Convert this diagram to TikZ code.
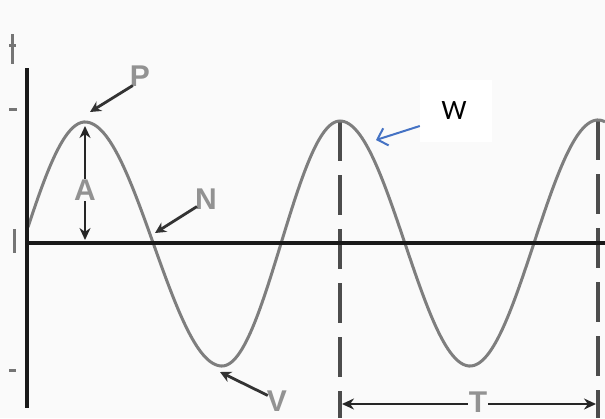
\documentclass[tikz,border=0pt]{standalone}
\usepackage{fontspec}
\setsansfont{Liberation Sans}
\newfontfamily\calib{Carlito}
\usetikzlibrary{arrows.meta}
\definecolor{bgc}{HTML}{FAFAFA}
\definecolor{wavec}{HTML}{7E7E7E}
\definecolor{dashc}{HTML}{4C4C4C}
\definecolor{labc}{HTML}{929292}
\definecolor{bluec}{HTML}{4472C4}
\tikzset{
  wave/.style={draw=wavec,line width=3pt},
  axisline/.style={draw=black!90,line width=3.6pt},
  dashline/.style={draw=dashc,line width=3.4pt,dash pattern=on 40pt off 14pt},
  lab/.style={text=labc,font=\sffamily\bfseries\fontsize{30}{30}\selectfont,inner sep=1pt},
  labw/.style={lab,fill=bgc},
  pointer/.style={draw=black!80,line width=2.8pt,-{Stealth[length=11pt,width=11pt]}},
  dim/.style={draw=black!85,line width=2.6pt,{Stealth[length=12pt,width=11pt]}-{Stealth[length=12pt,width=11pt]}},
  frag/.style={draw=labc!80!black,line width=3pt},
  wbox/.style={fill=white,draw=none,minimum width=72pt,minimum height=62pt,inner sep=0pt},
  bluearrow/.style={draw=bluec,line width=2pt,-{Straight Barb[length=9pt,width=18pt,line width=2pt]}}
}
\begin{document}
\begin{tikzpicture}[x=1pt,y=-1pt]
\fill[bgc] (0,0) rectangle (605,418);
\useasboundingbox (0,0) rectangle (605,418);
% left label fragments
\draw[frag] (12,34) -- (12,64);
\draw[frag] (9,45) -- (16,45);
\draw[frag] (9,109) -- (17,109);
\draw[frag] (14,229) -- (14,253);
\draw[frag] (9,370) -- (16,370);
% dashed verticals
\coordinate (d1t) at (340,121);
\coordinate (d1b) at (340,418);
\coordinate (d2t) at (598,120);
\coordinate (d2b) at (598,418);
\draw[dashline] (d1t) -- (d1b);
\draw[dashline] (d2t) -- (d2b);
% wave
\draw[wave]
  plot[domain=28:85,samples=30] (\x,{244+122*cos((\x+40)/125*180)})
  -- plot[domain=85:222,samples=60] (\x,{244-122*cos((\x-85)/137*180)})
  -- plot[domain=222:340,samples=60] (\x,{243.5+122.5*cos((\x-222)/118*180)})
  -- plot[domain=340:470,samples=60] (\x,{243.5-122.5*cos((\x-340)/130*180)})
  -- plot[domain=470:598,samples=60] (\x,{243+123*cos((\x-470)/128*180)})
  -- plot[domain=598:605,samples=6] (\x,{243-123*cos((\x-598)/128*180)});
% axes
\coordinate (ax0) at (27,243);
\coordinate (ax1) at (605,243);
\coordinate (ay0) at (27,68);
\coordinate (ay1) at (27,408);
\draw[axisline] (ax0) -- (ax1);
\draw[axisline] (ay0) -- (ay1);
% amplitude
\coordinate (at) at (85,126);
\coordinate (ab) at (85,240);
\draw[dim] (at) -- (ab);
\node[labw] (A) at (85,190) {A};
% period
\coordinate (tl) at (342,404);
\coordinate (tr) at (596,404);
\draw[dim] (tl) -- (tr);
\node[labw] (T) at (478,402) {T};
% P N V
\node[lab] (P) at (140,76) {P};
\coordinate (pp) at (90,112);
\draw[pointer] (P.south west) ++(4,-2) -- (pp);
\node[lab] (N) at (206,199) {N};
\coordinate (np) at (155,233);
\draw[pointer] (N.south west) ++(3,-4) -- (np);
\node[lab] (V) at (277,401) {V};
\coordinate (vp) at (220,372);
\draw[pointer] (V.north west) ++(2,6) -- (vp);
% W box
\node[wbox] (wb) at (456,111) {};
\node[font=\calib\fontsize{28}{28}\selectfont,text=black] (W) at (454,111) {W};
\coordinate (wp) at (376,140);
\draw[bluearrow] (wb.west |- 0,126) -- (wp);
\end{tikzpicture}
\end{document}
